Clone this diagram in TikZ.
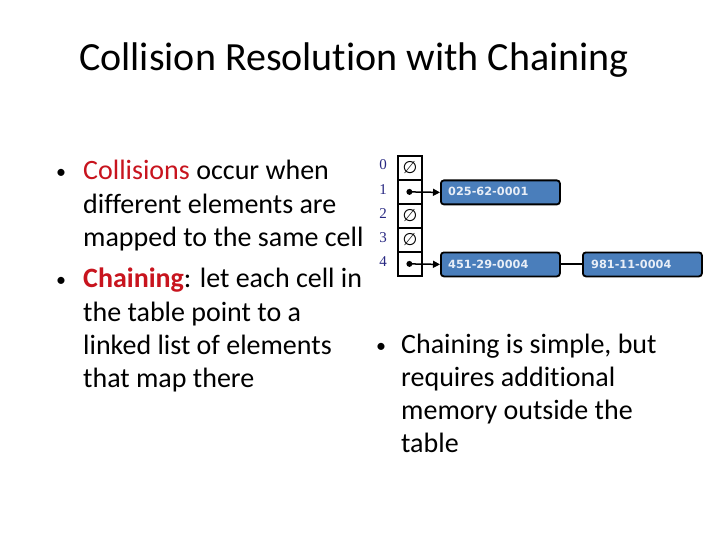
\documentclass[tikz,border=0pt]{standalone}
\usepackage{fontspec}
\setmainfont{Carlito}[RawFeature={-liga}]
\newfontfamily\numfont{Liberation Serif}
\newfontfamily\boxfont{DejaVu Sans}
\usetikzlibrary{arrows.meta}
\definecolor{hred}{RGB}{200,20,30}
\definecolor{navy}{RGB}{40,40,130}
\definecolor{boxblue}{RGB}{74,126,187}
\definecolor{boxtext}{RGB}{232,238,247}
\tikzset{
  txt/.style={anchor=base west, inner sep=0pt, font=\fontsize{28}{32}\selectfont},
  bul/.style={anchor=base, inner sep=0pt, font=\fontsize{20}{24}\selectfont},
  idx/.style={anchor=base, inner sep=0pt, text=navy, font=\numfont\fontsize{15}{16}\selectfont},
  cell/.style={draw, line width=1.8pt, minimum width=24pt, minimum height=24pt, inner sep=0pt, anchor=north west},
  nil/.style={inner sep=0pt, font=\boxfont\itshape\fontsize{17}{18}\selectfont},
  dot/.style={circle, fill, inner sep=0pt, minimum size=6pt},
  rec/.style={draw, line width=1.8pt, rounded corners=3pt, fill=boxblue, minimum width=119pt, minimum height=24pt, inner sep=0pt, anchor=north west},
  rectxt/.style={anchor=base west, inner sep=0pt, text=boxtext, font=\boxfont\bfseries\fontsize{11.3}{13}\selectfont},
  ptr/.style={line width=1.5pt, -{Triangle[length=7pt,width=7pt]}},
  lnk/.style={line width=2pt}
}
\begin{document}
\begin{tikzpicture}[x=1pt,y=-1pt]
\useasboundingbox[fill=white] (0,0) rectangle (720,540);
% title
\node[anchor=base, inner sep=0pt, font=\fontsize{40}{44}\selectfont] (title) at (354,71) {Collision Resolution with Chaining};
% left bullets
\node[bul] (b1) at (61,179) {•};
\node[txt] (l1) at (83,180) {\textcolor{hred}{Collisions} occur when};
\node[txt] (l2) at (83,213.5) {different elements are};
\node[txt] (l3) at (83,247) {mapped to the same cell};
\node[bul] (b2) at (61,286.5) {•};
\node[txt] (l4) at (83,287.5) {\textcolor{hred}{\textbf{Chaining}}: let each cell in};
\node[txt] (l5) at (83,321) {the table point to a};
\node[txt] (l6) at (83,354) {linked list of elements};
\node[txt] (l7) at (83,387) {that map there};
% right bullet
\node[bul] (b3) at (381,352) {•};
\node[txt] (r1) at (401,353) {Chaining is simple, but};
\node[txt] (r2) at (401,386) {requires additional};
\node[txt] (r3) at (401,419) {memory outside the};
\node[txt] (r4) at (401,452) {table};
% table
\node[idx] (i0) at (383,170) {0};
\node[idx] (i1) at (383,194.5) {1};
\node[idx] (i2) at (383,218.5) {2};
\node[idx] (i3) at (383,242.5) {3};
\node[idx] (i4) at (383,266.5) {4};
\node[cell] (c0) at (397,155) {};
\node[cell] (c1) at (397,179) {};
\node[cell] (c2) at (397,203) {};
\node[cell] (c3) at (397,227) {};
\node[cell] (c4) at (397,251) {};
\node[nil] (n0) at (c0.center) {∅};
\node[nil] (n2) at (c2.center) {∅};
\node[nil] (n3) at (c3.center) {∅};
\node[dot] (d1) at ([xshift=-0.5pt]c1.center) {};
\node[dot] (d4) at ([xshift=-0.5pt]c4.center) {};
% records
\node[rec] (e1) at (440,179.5) {};
\node[rectxt] (t1) at (448,196) {025-62-0001};
\node[rec] (e2) at (440,251.5) {};
\node[rectxt] (t2) at (448,268) {451-29-0004};
\node[rec] (e3) at (582,251.5) {};
\node[rectxt] (t3) at (591,268) {981-11-0004};
% connectors
\draw[ptr] (d1.center) -- (e1.west);
\draw[ptr] (d4.center) -- (e2.west);
\draw[lnk] (e2.east) -- (e3.west);
\end{tikzpicture}
\end{document}
